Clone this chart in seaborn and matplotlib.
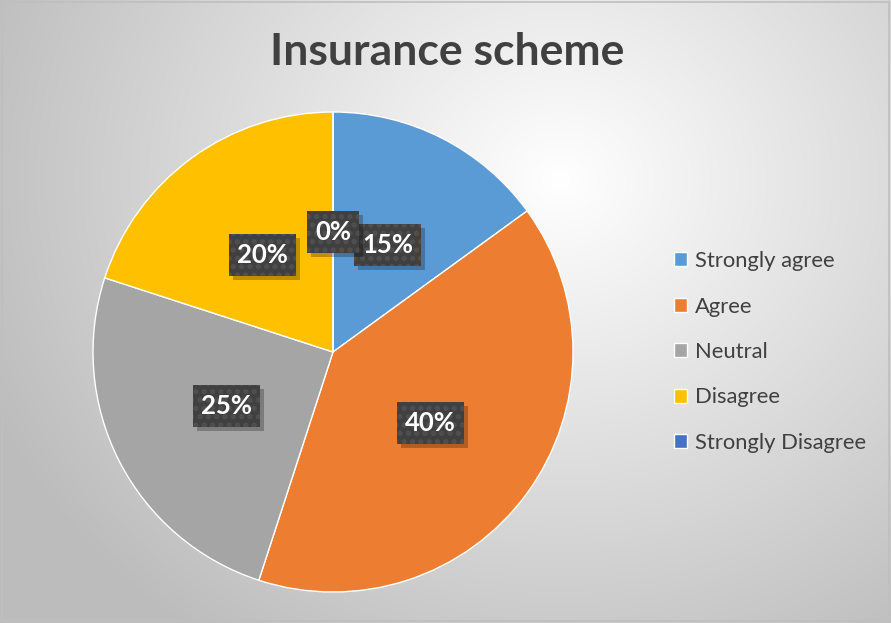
import numpy as np
import matplotlib
matplotlib.use("Agg")
import matplotlib.pyplot as plt
import matplotlib.transforms as mtransforms
import seaborn as sns

categories = ["Strongly agree", "Agree", "Neutral", "Disagree", "Strongly Disagree"]
values = [15, 40, 25, 20, 0]
colors = ["#5B9BD5", "#ED7D31", "#A5A5A5", "#FFC000", "#4472C4"]
title = "Insurance scheme"

sns.set_theme(style="white")
plt.rcParams["font.family"] = ["Lato", "DejaVu Sans"]
plt.rcParams["hatch.linewidth"] = 2.5

W, H = 891, 623
fig = plt.figure(figsize=(W / 100, H / 100), dpi=100)

# background radial gradient
bg = fig.add_axes([0, 0, 1, 1])
yy, xx = np.mgrid[0:H, 0:W]
cx, cy = 560, 180
d = np.sqrt(((xx - cx) / 620.0) ** 2 + ((yy - cy) / 560.0) ** 2)
d = np.clip(d, 0, 1)
val = 1.0 - 0.26 * d
img = np.dstack([val, val, val])
bg.imshow(img, extent=[0, W, 0, H], origin="upper", aspect="auto")
bg.set_xlim(0, W)
bg.set_ylim(0, H)
bg.axis("off")
bg.add_patch(plt.Rectangle((1.5, 2.5), W - 3.5, H - 4, fill=False, ec="#BFBFBF", lw=1.2))

# pie
cxp, cyp, r = 333, 352, 240
ax = fig.add_axes([(cxp - r) / W, (H - cyp - r) / H, 2 * r / W, 2 * r / H])
wedges, texts, autotexts = ax.pie(
    values, colors=colors, startangle=90, counterclock=False,
    autopct=lambda p: f"{p:.0f}%", pctdistance=0.5,
    wedgeprops=dict(edgecolor="white", linewidth=1.0),
    textprops=dict(color="white", fontsize=18.5, fontweight="bold"),
)
ax.set_xlim(-1, 1)
ax.set_ylim(-1, 1)
ax.set_aspect("equal")

fig.canvas.draw()
renderer = fig.canvas.get_renderer()
ident = mtransforms.IdentityTransform()
padx, pady = 8, 9
for i, t in enumerate(autotexts):
    t.set_zorder(10)
    bb = t.get_window_extent(renderer)
    x0, y0 = bb.x0 - padx, bb.y0 - pady
    w, h = bb.width + 2 * padx, bb.height + 2 * pady
    sh = plt.Rectangle((x0 + 4, y0 - 4), w, h, transform=ident, facecolor="black",
                       alpha=0.25, linewidth=0, zorder=4 + i * 0.1)
    box = plt.Rectangle((x0, y0), w, h, transform=ident, facecolor="#404040",
                        edgecolor="#505050", hatch="..", linewidth=0, zorder=4.05 + i * 0.1)
    for p in (sh, box):
        p.set_clip_on(False)
        ax.add_artist(p)

fig.text(447 / W, 1 - 52 / H, title, ha="center", va="center",
         fontsize=32, fontweight="bold", color="#404040")

handles = [plt.Rectangle((0, 0), 1, 1, facecolor=c) for c in colors]
leg = fig.legend(handles, categories, loc="center left", bbox_to_anchor=(674 / W, 1 - 352 / H),
                 frameon=False, fontsize=15.8, labelcolor="#404040", borderpad=0, borderaxespad=0,
                 handlelength=0.6, handleheight=0.6, handletextpad=0.35, labelspacing=1.16)

fig.savefig("out.png", dpi=100)
